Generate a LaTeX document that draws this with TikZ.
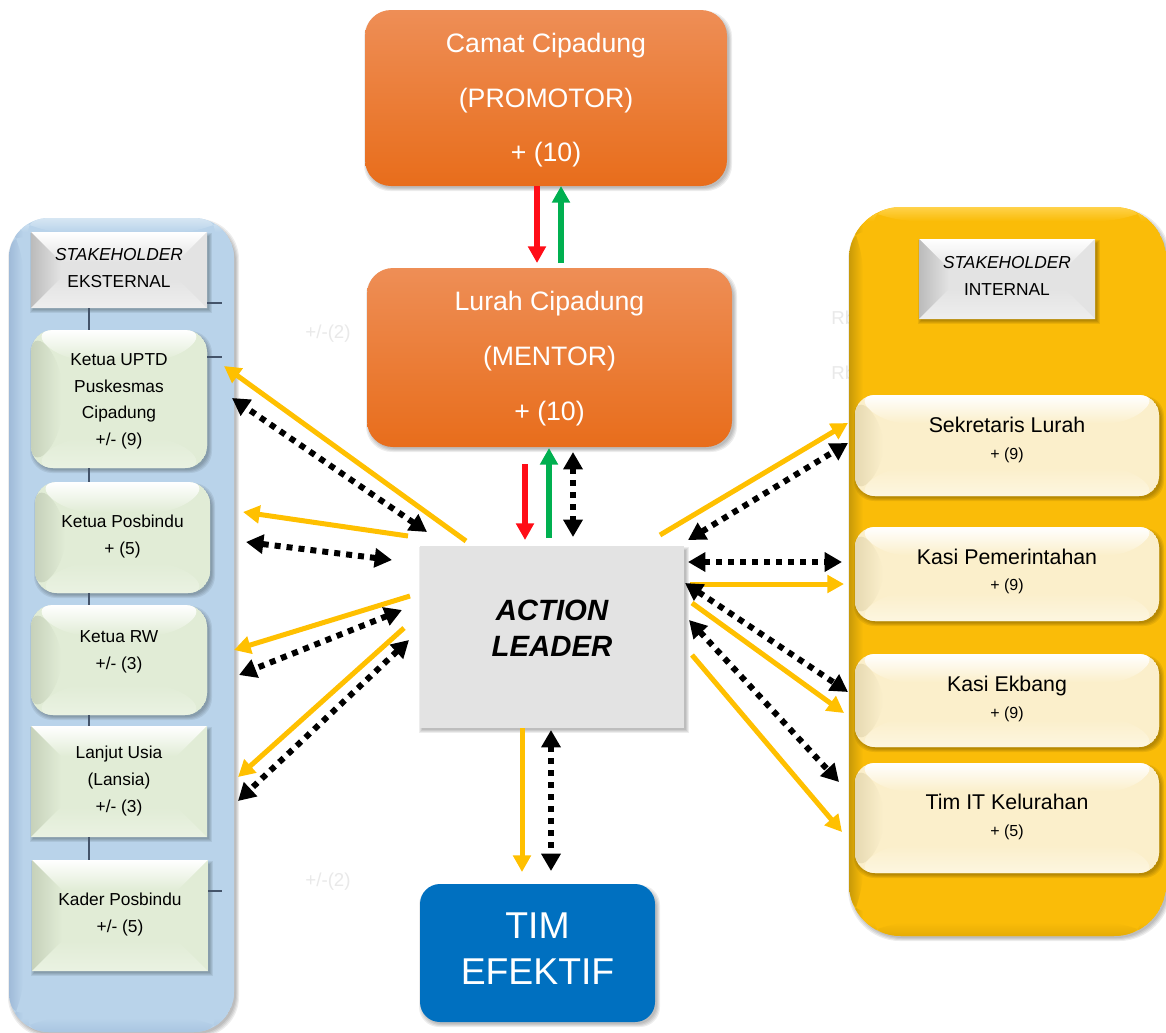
\documentclass[tikz,border=0pt]{standalone}
\usepackage{fontspec}
\setmainfont{Liberation Sans}
\usetikzlibrary{arrows.meta,calc}
\definecolor{blueB}{HTML}{B9D3EA}\definecolor{blueL}{HTML}{9FBAD8}\definecolor{blueT}{HTML}{D6E6F3}\definecolor{blueD}{HTML}{A9C5E1}
\definecolor{yelB}{HTML}{FABC08}\definecolor{yelL}{HTML}{C89A08}\definecolor{yelT}{HTML}{FFD24A}\definecolor{yelD}{HTML}{E5AC06}
\definecolor{greyB}{HTML}{E3E3E3}\definecolor{greyL}{HTML}{BBBBBB}\definecolor{greyD}{HTML}{EEEEEE}
\definecolor{grnB}{HTML}{E1ECD6}\definecolor{grnL}{HTML}{C6D1BA}\definecolor{grnD}{HTML}{EAF2E2}
\definecolor{crmB}{HTML}{FBEFCB}\definecolor{crmL}{HTML}{E6D9B2}\definecolor{crmD}{HTML}{FDF6E0}
\definecolor{orT}{HTML}{EE8E56}\definecolor{orM}{HTML}{F67D28}\definecolor{orD}{HTML}{E86D1B}
\definecolor{arrO}{HTML}{FFC000}\definecolor{arrG}{HTML}{00B050}\definecolor{arrR}{HTML}{FF0D17}
\definecolor{trunkc}{HTML}{44546A}\definecolor{ghost}{HTML}{E9E9E9}\definecolor{timb}{HTML}{0070C0}
\tikzset{
  x=0.75pt,y=-0.75pt,
  bevel/.style n args={6}{path picture={
    \coordinate (nw) at (path picture bounding box.north west);
    \coordinate (ne) at (path picture bounding box.north east);
    \coordinate (sw) at (path picture bounding box.south west);
    \coordinate (se) at (path picture bounding box.south east);
    \fill[#5] (nw) rectangle (se);
    \shade[top color=#1,bottom color=#5] (nw)--(ne)--($(ne)+(-#6,#6)$)--($(nw)+(#6,#6)$)--cycle;
    \shade[left color=#2,right color=#5] (nw)--($(nw)+(#6,#6)$)--($(sw)+(#6,-#6)$)--(sw)--cycle;
    \shade[right color=#3,left color=#5] (ne)--($(ne)+(-#6,#6)$)--($(se)+(-#6,-#6)$)--(se)--cycle;
    \shade[bottom color=#4,top color=#5] (sw)--($(sw)+(#6,-#6)$)--($(se)+(-#6,-#6)$)--(se)--cycle;
  }},
  greenbox/.style={bevel={white}{grnL}{grnB}{grnD}{grnB}{30},text=black},
  creambox/.style={bevel={white}{crmL}{crmB}{crmD}{crmB}{28},text=black},
  greybox/.style={bevel={white}{greyL}{greyB}{greyD}{greyB}{30},text=black},
  bluepanel/.style={bevel={blueT}{blueL}{blueB}{blueD}{blueB}{14}},
  yellowpanel/.style={bevel={yelT}{yelL}{yelB}{yelD}{yelB}{14}},
  orangebox/.style={top color=orT,middle color=orM,bottom color=orD,text=white},
  leaderbox/.style={fill=greyB,text=black},
  teambox/.style={fill=timb,text=white},
  plain arrow/.style={line width=3.75pt,-{Triangle[length=12.5pt,width=13pt]}},
  orangearrow/.style={plain arrow,draw=arrO},
  redarrow/.style={plain arrow,line width=4.2pt,draw=arrR},
  greenarrow/.style={plain arrow,line width=4.2pt,draw=arrG},
  dotarrow/.style={line width=4.5pt,draw=black,dash pattern=on 4.5pt off 4.5pt,
    {Triangle[length=13pt,width=14pt]}-{Triangle[length=13pt,width=14pt]}},
  trunk/.style={draw=trunkc,line width=1pt},
  ghosttext/.style={text=ghost,font=\fontsize{14}{16}\selectfont,inner sep=0pt},
}
% name, x0, y0, x1, y1, corner radius, style, content
\newcommand\bx[8]{%
  \foreach \e in {0,1,2,3}{\fill[black,opacity=.07,rounded corners={#6*0.75pt}]
    ({#2+2-\e},{#3+4-\e}) rectangle ({#4+2+\e},{#5+2+\e});}
  \node[inner sep=0pt,rectangle,rounded corners={#6*0.75pt},
    minimum width={(#4-#2)*0.75pt},minimum height={(#5-#3)*0.75pt},#7] (#1) at ({(#2+#4)/2},{(#3+#5)/2}) {#8};}
% vertical shift, width, size, baseline, lines
\newcommand\tl[5]{\setbox0=\hbox{\parbox[c]{#2pt}{\centering\fontsize{#3}{#4}\selectfont #5\par}}\ht0=0pt \dp0=0pt \leavevmode\raise\dimexpr #1pt-2.5pt\relax\box0 }
\newcommand\twosize[2]{{\fontsize{16}{20}\selectfont #1\par}{\fontsize{12}{20}\selectfont #2\par}}
\begin{document}
\begin{tikzpicture}
\useasboundingbox (0,0) rectangle (1166,1032);
\fill[white] (0,0) rectangle (1166,1032);
% faint labels
\node[ghosttext] (g1) at (328,334) {+/-(2)};
\node[ghosttext] (g2) at (328,882) {+/-(2)};
\node[ghosttext,anchor=west] (g3) at (831,318) {Rb};
\node[ghosttext,anchor=west] (g4) at (831,373) {Rb};
% panels
\bx{panelE}{9}{218}{234}{1032}{40}{bluepanel}{}
\bx{panelI}{849}{207}{1166}{936}{52}{yellowpanel}{}
% top boxes
\bx{camat}{365}{10}{727}{186}{26}{orangebox}{\tl{-6}{260}{20}{41}{Camat Cipadung\\(PROMOTOR)\\+ (10)}}
\bx{lurah}{367}{268}{732}{447}{26}{orangebox}{\tl{-4}{260}{20}{41}{Lurah Cipadung\\(MENTOR)\\+ (10)}}
\bx{leader}{420}{546}{684}{728}{0}{leaderbox}{\tl{11}{170}{22}{27}{\bfseries\itshape ACTION\\LEADER}}
\bx{tim}{420}{884}{655}{1022}{20}{teambox}{\tl{4}{170}{28}{34}{TIM\\EFEKTIF}}
% external
\bx{hdrE}{31}{232}{207}{308}{0}{greybox}{\tl{0}{125}{13}{20}{\textit{STAKEHOLDER}\\EKSTERNAL}}
\bx{uptd}{31}{330}{207}{468}{22}{greenbox}{\tl{-6}{125}{13}{20}{Ketua UPTD\\Puskesmas\\Cipadung\\+/- (9)}}
\bx{posb}{35}{482}{210}{593}{22}{greenbox}{\tl{-1.5}{125}{13}{20}{Ketua Posbindu\\+ (5)}}
\bx{rw}{31}{605}{207}{715}{22}{greenbox}{\tl{9.5}{125}{13}{20}{Ketua RW\\+/- (3)}}
\bx{lansia}{31}{726}{207}{837}{0}{greenbox}{\tl{-1.5}{125}{13}{20}{Lanjut Usia\\(Lansia)\\+/- (3)}}
\bx{kader}{32}{860}{208}{971}{0}{greenbox}{\tl{-1}{125}{13}{20}{Kader Posbindu\\+/- (5)}}
% internal
\bx{hdrI}{919}{239}{1095}{319}{0}{greybox}{\tl{2}{125}{13}{20}{\textit{STAKEHOLDER}\\INTERNAL}}
\bx{sek}{855}{395}{1159}{496}{20}{creambox}{\tl{5.5}{220}{15}{20}{\twosize{Sekretaris Lurah}{+ (9)}}}
\bx{pem}{855}{527}{1159}{621}{20}{creambox}{\tl{1.5}{220}{15}{20}{\twosize{Kasi Pemerintahan}{+ (9)}}}
\bx{ekb}{855}{654}{1159}{747}{20}{creambox}{\tl{0}{220}{15}{20}{\twosize{Kasi Ekbang}{+ (9)}}}
\bx{timit}{855}{763}{1159}{873}{20}{creambox}{\tl{-0.5}{220}{15}{20}{\twosize{Tim IT Kelurahan}{+ (5)}}}
% org-chart trunk and ticks
\coordinate (tr) at (89,300);
\draw[trunk] (hdrE.south -| tr) -- (uptd.north -| tr);
\draw[trunk] (uptd.south -| tr) -- (posb.north -| tr);
\draw[trunk] (posb.south -| tr) -- (rw.north -| tr);
\draw[trunk] (rw.south -| tr) -- (lansia.north -| tr);
\draw[trunk] (lansia.south -| tr) -- (kader.north -| tr);
\coordinate (t1) at (222,303); \coordinate (t2) at (222,357); \coordinate (t3) at (222,891);
\draw[trunk] (hdrE.east |- t1) -- (t1);
\draw[trunk] (uptd.east |- t2) -- (t2);
\draw[trunk] (kader.east |- t3) -- (t3);
% end points
\coordinate (a1) at (537,186); \coordinate (a2) at (537,263);
\coordinate (b1) at (561,263); \coordinate (b2) at (561,186);
\coordinate (c1) at (525,464); \coordinate (c2) at (525,540);
\coordinate (d1) at (549,538); \coordinate (d2) at (549,448);
\coordinate (e1) at (573,452); \coordinate (e2) at (573,537);
\coordinate (f1) at (466,541); \coordinate (f2) at (224,366);
\coordinate (g1a) at (427,532); \coordinate (g2a) at (232,398);
\coordinate (h1) at (408,536); \coordinate (h2) at (243,512);
\coordinate (i1) at (392,560); \coordinate (i2) at (246,542);
\coordinate (j1) at (410,596); \coordinate (j2) at (234,650);
\coordinate (k1) at (402,610); \coordinate (k2) at (239,675);
\coordinate (l1) at (404,628); \coordinate (l2) at (238,777);
\coordinate (m1) at (409,640); \coordinate (m2) at (238,801);
\coordinate (n1) at (660,535); \coordinate (n2) at (848,423);
\coordinate (o1) at (688,540); \coordinate (o2) at (848,443);
\coordinate (p1) at (688,562); \coordinate (p2) at (842,562);
\coordinate (q1) at (690,584); \coordinate (q2) at (844,584);
\coordinate (r1) at (685,583); \coordinate (r2) at (848,692);
\coordinate (s1) at (692,603); \coordinate (s2) at (844,713);
\coordinate (u1) at (689,620); \coordinate (u2) at (839,782);
\coordinate (v1) at (692,655); \coordinate (v2) at (842,832);
\coordinate (w1) at (522,728); \coordinate (w2) at (522,872);
\coordinate (y1) at (551,730); \coordinate (y2) at (551,871);
% connectors
\draw[redarrow] (a1) -- (a2);
\draw[greenarrow] (b1) -- (b2);
\draw[redarrow] (c1) -- (c2);
\draw[greenarrow] (d1) -- (d2);
\draw[dotarrow] (e1) -- (e2);
\draw[orangearrow] (f1) -- (f2);
\draw[dotarrow] (g1a) -- (g2a);
\draw[orangearrow] (h1) -- (h2);
\draw[dotarrow] (i1) -- (i2);
\draw[orangearrow] (j1) -- (j2);
\draw[dotarrow] (k1) -- (k2);
\draw[orangearrow] (l1) -- (l2);
\draw[dotarrow] (m1) -- (m2);
\draw[orangearrow] (n1) -- (n2);
\draw[dotarrow] (o1) -- (o2);
\draw[dotarrow] (p1) -- (p2);
\draw[orangearrow] (q1) -- (q2);
\draw[dotarrow] (r1) -- (r2);
\draw[orangearrow] (s1) -- (s2);
\draw[dotarrow] (u1) -- (u2);
\draw[orangearrow] (v1) -- (v2);
\draw[orangearrow] (w1) -- (w2);
\draw[dotarrow] (y1) -- (y2);
\end{tikzpicture}
\end{document}
